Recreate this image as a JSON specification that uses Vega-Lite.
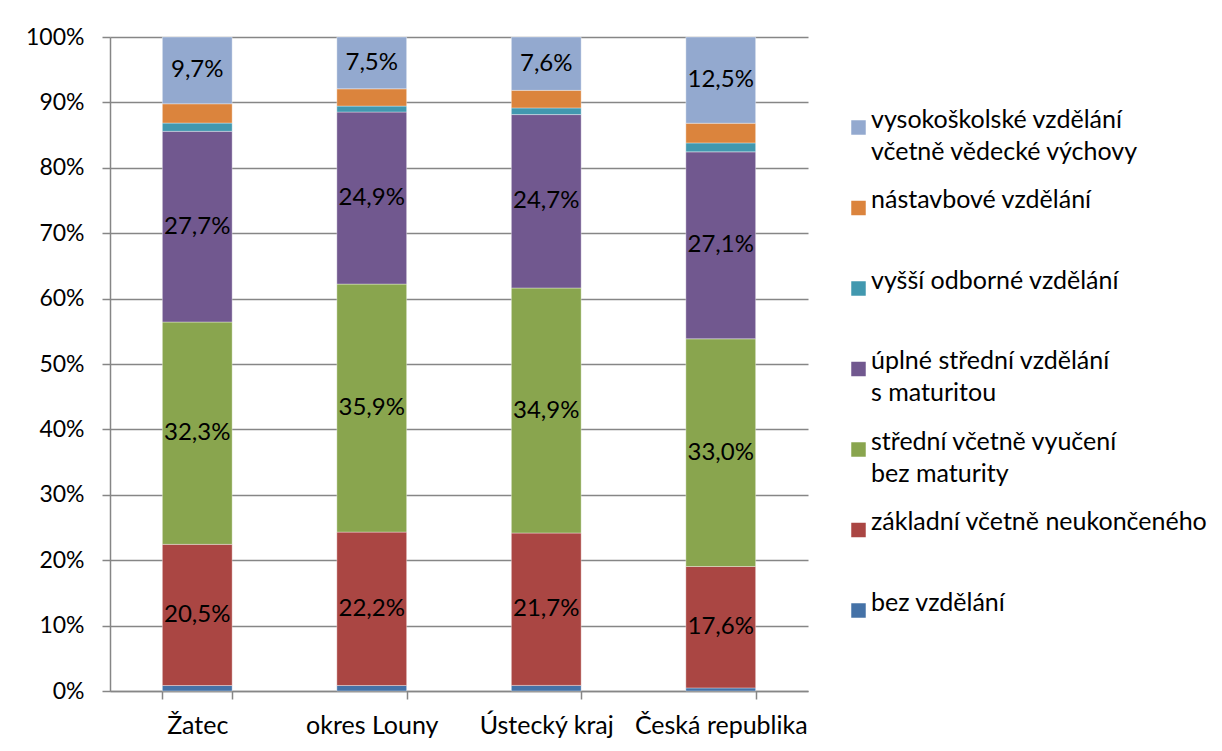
{
  "$schema": "https://vega.github.io/schema/vega-lite/v6.json",
  "width": 698,
  "height": 654,
  "autosize": {"type": "none"},
  "padding": {"left": 110, "top": 37, "right": 414, "bottom": 60},
  "background": "white",
  "config": {
    "locale": {"number": {"decimal": ",", "thousands": "\u00a0", "grouping": [3], "currency": ["", " Kč"], "percent": "%"}},
    "font": "Lato",
    "view": {"stroke": null},
    "style": {"guide-label": {"lineHeight": 32}}
  },
  "data": {
    "values": [
      {"oblast": "Žatec", "kat": "bez vzdělání", "poradi": 1, "podil": 0.008, "popisek": false},
      {"oblast": "Žatec", "kat": "základní včetně neukončeného", "poradi": 2, "podil": 0.205, "popisek": true},
      {"oblast": "Žatec", "kat": "střední včetně vyučení| bez maturity", "poradi": 3, "podil": 0.323, "popisek": true},
      {"oblast": "Žatec", "kat": "úplné střední vzdělání|s maturitou", "poradi": 4, "podil": 0.277, "popisek": true},
      {"oblast": "Žatec", "kat": "vyšší odborné vzdělání", "poradi": 5, "podil": 0.012, "popisek": false},
      {"oblast": "Žatec", "kat": "nástavbové vzdělání", "poradi": 6, "podil": 0.028, "popisek": false},
      {"oblast": "Žatec", "kat": "vysokoškolské vzdělání|včetně vědecké výchovy", "poradi": 7, "podil": 0.097, "popisek": true},
      {"oblast": "okres Louny", "kat": "bez vzdělání", "poradi": 1, "podil": 0.008, "popisek": false},
      {"oblast": "okres Louny", "kat": "základní včetně neukončeného", "poradi": 2, "podil": 0.222, "popisek": true},
      {"oblast": "okres Louny", "kat": "střední včetně vyučení| bez maturity", "poradi": 3, "podil": 0.359, "popisek": true},
      {"oblast": "okres Louny", "kat": "úplné střední vzdělání|s maturitou", "poradi": 4, "podil": 0.249, "popisek": true},
      {"oblast": "okres Louny", "kat": "vyšší odborné vzdělání", "poradi": 5, "podil": 0.0086, "popisek": false},
      {"oblast": "okres Louny", "kat": "nástavbové vzdělání", "poradi": 6, "podil": 0.025, "popisek": false},
      {"oblast": "okres Louny", "kat": "vysokoškolské vzdělání|včetně vědecké výchovy", "poradi": 7, "podil": 0.075, "popisek": true},
      {"oblast": "Ústecký kraj", "kat": "bez vzdělání", "poradi": 1, "podil": 0.008, "popisek": false},
      {"oblast": "Ústecký kraj", "kat": "základní včetně neukončeného", "poradi": 2, "podil": 0.217, "popisek": true},
      {"oblast": "Ústecký kraj", "kat": "střední včetně vyučení| bez maturity", "poradi": 3, "podil": 0.349, "popisek": true},
      {"oblast": "Ústecký kraj", "kat": "úplné střední vzdělání|s maturitou", "poradi": 4, "podil": 0.247, "popisek": true},
      {"oblast": "Ústecký kraj", "kat": "vyšší odborné vzdělání", "poradi": 5, "podil": 0.0095, "popisek": false},
      {"oblast": "Ústecký kraj", "kat": "nástavbové vzdělání", "poradi": 6, "podil": 0.025, "popisek": false},
      {"oblast": "Ústecký kraj", "kat": "vysokoškolské vzdělání|včetně vědecké výchovy", "poradi": 7, "podil": 0.076, "popisek": true},
      {"oblast": "Česká republika", "kat": "bez vzdělání", "poradi": 1, "podil": 0.0045, "popisek": false},
      {"oblast": "Česká republika", "kat": "základní včetně neukončeného", "poradi": 2, "podil": 0.176, "popisek": true},
      {"oblast": "Česká republika", "kat": "střední včetně vyučení| bez maturity", "poradi": 3, "podil": 0.330, "popisek": true},
      {"oblast": "Česká republika", "kat": "úplné střední vzdělání|s maturitou", "poradi": 4, "podil": 0.271, "popisek": true},
      {"oblast": "Česká republika", "kat": "vyšší odborné vzdělání", "poradi": 5, "podil": 0.013, "popisek": false},
      {"oblast": "Česká republika", "kat": "nástavbové vzdělání", "poradi": 6, "podil": 0.0285, "popisek": false},
      {"oblast": "Česká republika", "kat": "vysokoškolské vzdělání|včetně vědecké výchovy", "poradi": 7, "podil": 0.125, "popisek": true}
    ]
  },
  "encoding": {
    "x": {
      "field": "oblast",
      "type": "nominal",
      "sort": ["Žatec", "okres Louny", "Ústecký kraj", "Česká republika"],
      "scale": {"paddingInner": 0.6, "paddingOuter": 0.3},
      "axis": {
        "title": null,
        "labelAngle": 0,
        "labelFont": "Lato",
        "labelFontSize": 25,
        "labelColor": "#000000",
        "labelPadding": 14,
        "tickBand": "extent",
        "tickSize": 8,
        "tickColor": "#868686",
        "tickWidth": 1.5,
        "domainColor": "#868686",
        "domainWidth": 1.5,
        "grid": false
      }
    },
    "y": {
      "field": "podil",
      "type": "quantitative",
      "stack": "normalize",
      "scale": {"domain": [0, 1]},
      "axis": {
        "title": null,
        "values": [0, 0.1, 0.2, 0.3, 0.4, 0.5, 0.6, 0.7, 0.8, 0.9, 1],
        "format": ".0%",
        "labelFont": "Lato",
        "labelFontSize": 23,
        "labelColor": "#000000",
        "labelPadding": 18,
        "tickSize": 8,
        "tickColor": "#868686",
        "tickWidth": 1.5,
        "domainColor": "#868686",
        "domainWidth": 1.5,
        "gridColor": "#868686",
        "gridWidth": 1.5
      }
    },
    "order": {"field": "poradi", "type": "quantitative"}
  },
  "layer": [
    {
      "mark": {"type": "bar", "stroke": "#ffffff", "strokeOpacity": 0.45, "strokeWidth": 0.8},
      "encoding": {
        "color": {
          "field": "kat",
          "type": "nominal",
          "scale": {
            "domain": [
              "vysokoškolské vzdělání|včetně vědecké výchovy",
              "nástavbové vzdělání",
              "vyšší odborné vzdělání",
              "úplné střední vzdělání|s maturitou",
              "střední včetně vyučení| bez maturity",
              "základní včetně neukončeného",
              "bez vzdělání"
            ],
            "range": ["#93A9CF", "#DB843D", "#4198AF", "#71588F", "#89A54E", "#AA4643", "#4572A7"]
          },
          "legend": {
            "title": null,
            "orient": "none",
            "legendX": 736,
            "legendY": 78,
            "symbolType": "square",
            "symbolSize": 210,
            "symbolStrokeWidth": 0,
            "labelFont": "Lato",
            "labelFontSize": 25,
            "labelColor": "#000000",
            "labelLimit": 400,
            "labelOffset": 0,
            "labelBaseline": "alphabetic",
            "labelExpr": "indexof(datum.label, '|') >= 0 ? split(datum.label, '|') : [datum.label, '\u00a0']",
            "rowPadding": 22.5,
            "encode": {"labels": {"update": {"dy": {"value": 12}, "lineHeight": {"value": 32}}}}
          }
        }
      }
    },
    {
      "mark": {"type": "text", "fontSize": 24, "font": "Lato", "color": "#000000"},
      "encoding": {
        "detail": {"field": "kat"},
        "y": {"field": "podil", "type": "quantitative", "stack": "normalize", "bandPosition": 0.5},
        "text": {
          "condition": {"test": "datum.popisek", "field": "podil", "type": "quantitative", "format": ".1%"},
          "value": ""
        }
      }
    }
  ]
}
